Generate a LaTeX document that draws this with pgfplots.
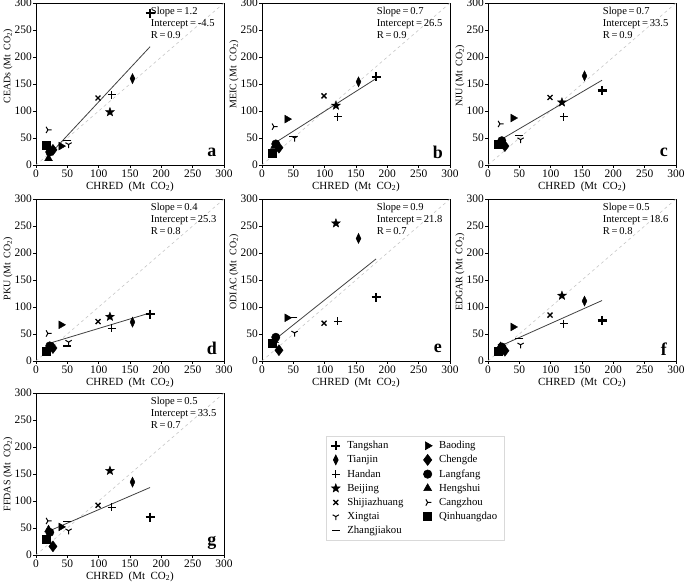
\documentclass[border=0pt]{standalone}
\usepackage{pgfplots}
\pgfplotsset{compat=1.18}
\usepackage{pgfplotstable}
\usepackage{fontspec}
\setmainfont{Liberation Serif}

\pgfdeclareplotmark{fstar}{%
  \pgfpathmoveto{\pgfpointpolar{90}{\pgfplotmarksize}}%
  \pgfpathlineto{\pgfpointpolar{126}{0.42\pgfplotmarksize}}%
  \pgfpathlineto{\pgfpointpolar{162}{\pgfplotmarksize}}%
  \pgfpathlineto{\pgfpointpolar{198}{0.42\pgfplotmarksize}}%
  \pgfpathlineto{\pgfpointpolar{234}{\pgfplotmarksize}}%
  \pgfpathlineto{\pgfpointpolar{270}{0.42\pgfplotmarksize}}%
  \pgfpathlineto{\pgfpointpolar{306}{\pgfplotmarksize}}%
  \pgfpathlineto{\pgfpointpolar{342}{0.42\pgfplotmarksize}}%
  \pgfpathlineto{\pgfpointpolar{18}{\pgfplotmarksize}}%
  \pgfpathlineto{\pgfpointpolar{54}{0.42\pgfplotmarksize}}%
  \pgfpathclose
  \pgfusepathqfillstroke}

\pgfplotstableread{
city x a b c d e f g
Tangshan 182 281 163 138 87 118 75 70
Tianjin 154 160 154 165 72 227 111 135
Handan 121 130 89 89 61 74 69 88
Beijing 118 98 110 116 82 255 121 156
Shijiazhuang 99 124 128 125 73 70 85 92
Xingtai 52 38 50 47 35 52 30 45
Zhangjiakou 50 45 53 55 28 80 42 62
Baoding 40 35 85 87 67 80 63 52
Chengde 27 28 32 35 24 20 19 16
Langfang 22 24 39 45 28 44 26 42
Hengshui 20 12 35 40 25 38 27 47
Cangzhou 19 65 71 76 51 40 25 63
Qinhuangdao 17 37 22 38 19 33 18 30
}\datatable

\pgfplotsset{
  c0/.style={only marks, black, mark=+, mark size=4.5bp, mark options={line width=2.3bp}},
  c1/.style={only marks, black, mark=diamond*, mark size=5bp, mark options={xscale=0.65, fill=black}},
  c2/.style={only marks, black, mark=+, mark size=4bp, mark options={line width=1bp}},
  c3/.style={only marks, black, mark=fstar, mark size=4.6bp, mark options={fill=black, line width=0.4bp}},
  c4/.style={only marks, black, mark=x, mark size=3.5bp, mark options={line width=1.3bp}},
  c5/.style={only marks, black, mark=Mercedes star flipped, mark size=3.6bp, mark options={line width=1bp}},
  c6/.style={only marks, black, mark=-, mark size=4bp, mark options={line width=1.3bp}},
  c7/.style={only marks, black, mark=triangle*, mark size=4.5bp, mark options={rotate=-90, fill=black}},
  c8/.style={only marks, black, mark=diamond*, mark size=5.5bp, mark options={fill=black}},
  c9/.style={only marks, black, mark=*, mark size=4.2bp, mark options={fill=black}},
  c10/.style={only marks, black, mark=triangle*, mark size=4.5bp, mark options={fill=black}},
  c11/.style={only marks, black, mark=Mercedes star flipped, mark size=3.6bp, mark options={rotate=90, line width=1bp}},
  c12/.style={only marks, black, mark=square*, mark size=4bp, mark options={fill=black}},
  panel/.style={
    width=188bp, height=162bp, scale only axis,
    xmin=0, xmax=300, ymin=0, ymax=300,
    xtick={0,50,...,300}, ytick={0,50,...,300},
    tick align=outside, xtick pos=left, ytick pos=left,
    major tick length=3bp,
    tick style={black, line width=0.6pt},
    axis line style={line width=0.6pt},
    tick label style={font=\fontsize{11.5}{12}\selectfont},
    yticklabel style={inner xsep=1bp},
    xticklabel style={inner ysep=2bp},
    /pgf/number format/assume math mode=true,
    xlabel={CHRED~~(Mt~~CO\textsubscript{2})},
    xlabel style={font=\fontsize{11}{12}\selectfont, yshift=2bp},
    clip=false,
  },
}

\newcommand\cityplot[3]{%
  \addplot[#1, x filter/.expression={\coordindex==#2 ? x : nan}] table[x=x, y=#3] {\datatable};}

\newcommand\panel[9]{%
\begin{axis}[panel, at={#1}, anchor=south west, ylabel={#3 (Mt~~CO\textsubscript{2})},
  ylabel style={font=\fontsize{10}{10}\selectfont, at={(ticklabel cs:#9)}, anchor=south, inner sep=1bp}]
\addplot[gray!45, dashed, line width=0.6pt, forget plot] coordinates {(0,0) (300,300)};
\addplot[black!75, line width=0.8pt, forget plot] coordinates {#8};
\cityplot{c0}{0}{#2}
\cityplot{c1}{1}{#2}
\cityplot{c2}{2}{#2}
\cityplot{c3}{3}{#2}
\cityplot{c4}{4}{#2}
\cityplot{c5}{5}{#2}
\cityplot{c6}{6}{#2}
\cityplot{c7}{7}{#2}
\cityplot{c8}{8}{#2}
\cityplot{c9}{9}{#2}
\cityplot{c10}{10}{#2}
\cityplot{c11}{11}{#2}
\cityplot{c12}{12}{#2}
\node[anchor=north west, align=left, inner sep=0pt, font=\fontsize{10.6}{11.8}\selectfont] at (rel axis cs:0.61,0.975) {Slope\,=\,#5\\Intercept\,=\,#6\\R\,=\,#7};
\node[font=\fontsize{18}{18}\selectfont\bfseries] at (rel axis cs:0.935,0.075) {#4};
\end{axis}}

\begin{document}
\begin{tikzpicture}
\path[use as bounding box] (0,0) rectangle (685bp,584bp);
\panel{(36bp,419bp)}{a}{CEADs}{a}{1.2}{-4.5}{0.9}{(19,16) (182,219)}{0.61}
\panel{(262bp,419bp)}{b}{MEIC}{b}{0.7}{26.5}{0.9}{(22,42) (182,160)}{0.56}
\panel{(488bp,419bp)}{c}{NJU}{c}{0.7}{33.5}{0.9}{(22,48) (182,157)}{0.55}
\panel{(36bp,223bp)}{d}{PKU}{d}{0.4}{25.3}{0.8}{(22,33) (182,89)}{0.57}
\panel{(262bp,223bp)}{e}{ODIAC}{e}{0.9}{21.8}{0.7}{(22,41) (182,189)}{0.55}
\panel{(488bp,223bp)}{f}{EDGAR}{f}{0.5}{18.6}{0.8}{(22,29) (182,112)}{0.55}
\panel{(36bp,29bp)}{g}{FFDAS}{g}{0.5}{33.5}{0.7}{(20,44) (182,125)}{0.5}

\begin{axis}[at={(326bp,148bp)}, anchor=north west, hide axis, scale only axis,
  width=177bp, height=98bp, xmin=0, xmax=1, ymin=0, ymax=1,
  legend columns=2, legend cell align=left,
  legend style={at={(0,1)}, anchor=north west, draw=black!15, line width=0.6pt,
    font=\fontsize{10.8}{12}\selectfont,
    /tikz/every odd column/.append style={column sep=5bp},
    /tikz/every even column/.append style={column sep=18bp},
    row sep=1.2bp, inner xsep=5bp, inner ysep=3bp}]
\addlegendimage{c0}\addlegendentry{Tangshan}
\addlegendimage{c7}\addlegendentry{Baoding}
\addlegendimage{c1}\addlegendentry{Tianjin}
\addlegendimage{c8}\addlegendentry{Chengde}
\addlegendimage{c2}\addlegendentry{Handan}
\addlegendimage{c9}\addlegendentry{Langfang}
\addlegendimage{c3}\addlegendentry{Beijing}
\addlegendimage{c10}\addlegendentry{Hengshui}
\addlegendimage{c4}\addlegendentry{Shijiazhuang}
\addlegendimage{c11}\addlegendentry{Cangzhou}
\addlegendimage{c5}\addlegendentry{Xingtai}
\addlegendimage{c12}\addlegendentry{Qinhuangdao}
\addlegendimage{c6}\addlegendentry{Zhangjiakou}
\end{axis}
\end{tikzpicture}
\end{document}
